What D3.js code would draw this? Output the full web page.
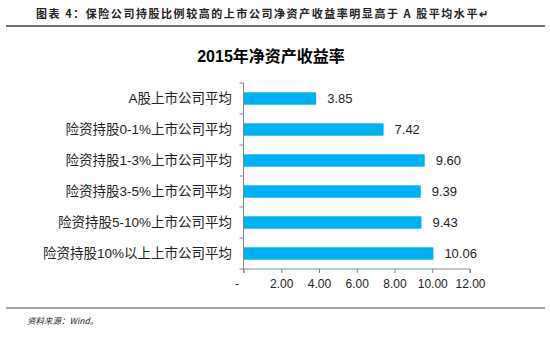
<!DOCTYPE html>
<html><head><meta charset="utf-8">
<script src="https://cdn.jsdelivr.net/npm/d3@7"></script>
<style>body{margin:0;background:#fff}svg{display:block}</style>
</head><body>
<svg id="c" width="550" height="337"></svg>
<script>
const categories = ["A股上市公司平均","险资持股0-1%上市公司平均","险资持股1-3%上市公司平均","险资持股3-5%上市公司平均","险资持股5-10%上市公司平均","险资持股10%以上上市公司平均"];
const values = [3.85, 7.42, 9.60, 9.39, 9.43, 10.06];
const xTicks = [0, 2, 4, 6, 8, 10, 12];
const headerText = "图表 4：保险公司持股比例较高的上市公司净资产收益率明显高于 A 股平均水平↵";
const chartTitle = "2015年净资产收益率";
const sourceText = "资料来源：Wind。";

const svg = d3.select("#c");
const cjk = "'Liberation Sans', Arial, 'Noto Sans CJK SC', sans-serif";

// header
svg.append("text").attr("x", 36).attr("y", 18).attr("font-family", "'Noto Sans CJK SC', sans-serif")
  .attr("font-size", 11).attr("font-weight", "bold").attr("fill", "#222").attr("letter-spacing", 1.55)
  .text(headerText);
svg.append("line").attr("x1", 6).attr("x2", 545).attr("y1", 26).attr("y2", 26).attr("stroke", "#444").attr("stroke-width", 1.5);

// title
svg.append("text").attr("x", 271).attr("y", 62).attr("text-anchor", "middle")
  .attr("font-family", cjk).attr("font-size", 16).attr("font-weight", "bold").attr("fill", "#000")
  .text(chartTitle);

const x = d3.scaleLinear().domain([0, 12]).range([243.5, 470]);
const y = d3.scaleBand().domain(categories).range([83, 269]).paddingInner(0.6).paddingOuter(0.3);

// bars
svg.append("g").selectAll("rect").data(values).join("rect")
  .attr("x", x(0)).attr("y", (d, i) => y(categories[i]))
  .attr("width", d => x(d) - x(0)).attr("height", y.bandwidth())
  .attr("fill", "#00B0F0");

// value labels
svg.append("g").selectAll("text").data(values).join("text")
  .attr("x", d => x(d) + 11).attr("y", (d, i) => y(categories[i]) + y.bandwidth() / 2)
  .attr("dy", "0.36em").attr("font-family", cjk).attr("font-size", 13).attr("fill", "#222")
  .text(d => d.toFixed(2));

// y axis
const yAxisG = svg.append("g");
yAxisG.append("line").attr("x1", x(0)).attr("x2", x(0)).attr("y1", 83).attr("y2", 269).attr("stroke", "#868686");
yAxisG.selectAll("line.t").data(d3.range(categories.length + 1)).join("line").attr("class", "t")
  .attr("x1", x(0) - 4).attr("x2", x(0)).attr("y1", i => 83 + i * (186 / 6)).attr("y2", i => 83 + i * (186 / 6))
  .attr("stroke", "#868686");
yAxisG.selectAll("text").data(categories).join("text")
  .attr("x", 232).attr("y", d => y(d) + y.bandwidth() / 2).attr("dy", "0.36em")
  .attr("text-anchor", "end").attr("font-family", cjk).attr("font-size", 13.5).attr("fill", "#222")
  .text(d => d);

// x axis
const xAxis = d3.axisBottom(x).tickValues(xTicks).tickSize(4).tickPadding(6)
  .tickFormat(d => d === 0 ? "-" : d.toFixed(2));
const xg = svg.append("g").attr("transform", "translate(0,269)").call(xAxis);
xg.select(".domain").attr("stroke", "#868686").attr("d", `M${x(0)},4V0H${x(12)}V4`);
xg.selectAll(".tick line").attr("stroke", "#868686");
xg.selectAll(".tick text").attr("font-family", cjk).attr("font-size", 12).attr("fill", "#222");
xg.selectAll(".tick text").filter(d => d === 0).attr("dx", -7);

// bottom line and source
svg.append("line").attr("x1", 6).attr("x2", 545).attr("y1", 308).attr("y2", 308).attr("stroke", "#444").attr("stroke-width", 1.2);
svg.append("text").attr("x", 27).attr("y", 324).attr("font-family", "'Noto Sans CJK SC', sans-serif")
  .attr("font-size", 8.5).attr("font-style", "italic").attr("fill", "#222").text(sourceText);
</script>
</body></html>
